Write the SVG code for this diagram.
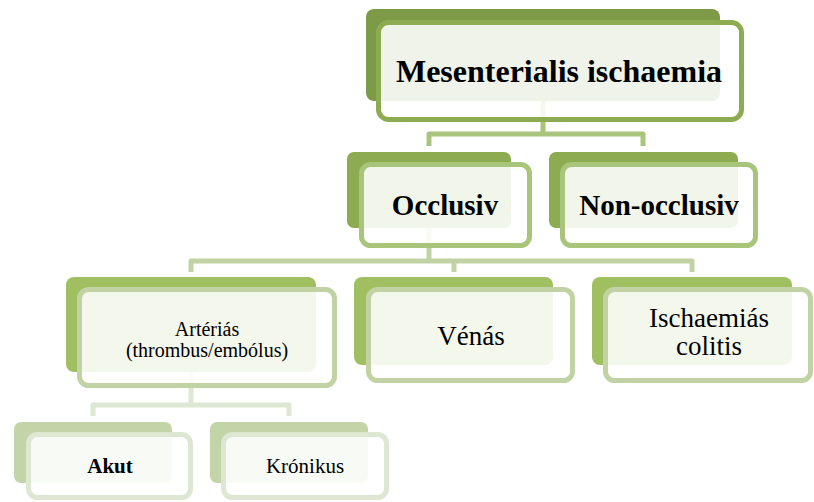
<svg xmlns="http://www.w3.org/2000/svg" width="814" height="502" viewBox="0 0 814 502">
  <style>
    .back { stroke: none; }
    .front { fill: #ffffff; fill-opacity: 0.88; stroke-width: 5; }
    .conn { fill: none; stroke-width: 5; stroke-linejoin: round; }
    text { font-family: "Liberation Serif", "Times New Roman", "DejaVu Serif", serif; fill: #000000; text-anchor: middle; }
    .b { font-weight: bold; }
    .l0 .back { fill: #7d9a48; } .l0 .front { stroke: #8dac52; }
    .l1 .back { fill: #8dab51; } .l1 .front { stroke: #a9c47b; }
    .l2 .back { fill: #a0bf60; } .l2 .front { stroke: #c1d3a4; }
    .l3 .back { fill: #c4d4a9; } .l3 .front { stroke: #dde7d1; }
  </style>
  <rect width="814" height="502" fill="#ffffff"/>

  <!-- connectors (drawn under the boxes) -->
  <g id="connectors">
    <path class="conn" stroke="#a9c47b" d="M543,101 V134 M429,146 V134 H643 V146"/>
    <path class="conn" stroke="#c1d3a4" d="M429,228 V261 M191,272 V261 H692 V272 M454,261 V272"/>
    <path class="conn" stroke="#dde7d1" d="M191,372 V405 M93,416 V405 H289 V416"/>
  </g>

  <g id="mesenterialis" class="l0">
    <rect class="back" x="366" y="9" width="354" height="92" rx="8"/>
    <rect class="front" x="378.5" y="22.5" width="363" height="97" rx="10"/>
    <text class="b" x="559" y="82" font-size="32" font-family="Liberation Serif, serif">Mesenterialis ischaemia</text>
  </g>

  <g id="occlusiv" class="l1">
    <rect class="back" x="347" y="152" width="164" height="76" rx="7"/>
    <rect class="front" x="361.5" y="164.5" width="168" height="81" rx="9"/>
    <text class="b" x="445" y="215" font-size="29" font-family="Liberation Serif, serif">Occlusiv</text>
  </g>

  <g id="non-occlusiv" class="l1">
    <rect class="back" x="549" y="152" width="189" height="76" rx="7"/>
    <rect class="front" x="562.5" y="164.5" width="193" height="81" rx="9"/>
    <text class="b" x="659" y="215" font-size="29" font-family="Liberation Serif, serif">Non-occlusiv</text>
  </g>

  <g id="arterias" class="l2">
    <rect class="back" x="66" y="277" width="250" height="95" rx="8"/>
    <rect class="front" x="79.5" y="289.5" width="255" height="96" rx="9"/>
    <text x="207" y="336" font-size="20" font-family="Liberation Serif, serif">Artériás</text>
    <text x="207" y="357" font-size="20" font-family="Liberation Serif, serif">(thrombus/embólus)</text>
  </g>

  <g id="venas" class="l2">
    <rect class="back" x="354" y="277" width="199" height="88" rx="8"/>
    <rect class="front" x="368.5" y="289.5" width="204" height="91" rx="9"/>
    <text x="471" y="345" font-size="27" font-family="Liberation Serif, serif">Vénás</text>
  </g>

  <g id="ischaemias-colitis" class="l2">
    <rect class="back" x="592" y="277" width="200" height="88" rx="8"/>
    <rect class="front" x="605.5" y="289.5" width="205" height="91" rx="9"/>
    <text x="709" y="327" font-size="27" font-family="Liberation Serif, serif">Ischaemiás</text>
    <text x="709" y="355" font-size="27" font-family="Liberation Serif, serif">colitis</text>
  </g>

  <g id="akut" class="l3">
    <rect class="back" x="14" y="422" width="158" height="61" rx="7"/>
    <rect class="front" x="28.5" y="434.5" width="162" height="63" rx="9"/>
    <text class="b" x="110" y="473" font-size="21" font-family="Liberation Serif, serif">Akut</text>
  </g>

  <g id="kronikus" class="l3">
    <rect class="back" x="210" y="422" width="158" height="61" rx="7"/>
    <rect class="front" x="223.5" y="434.5" width="163" height="63" rx="9"/>
    <text x="305" y="473" font-size="21" font-family="Liberation Serif, serif">Krónikus</text>
  </g>
</svg>
